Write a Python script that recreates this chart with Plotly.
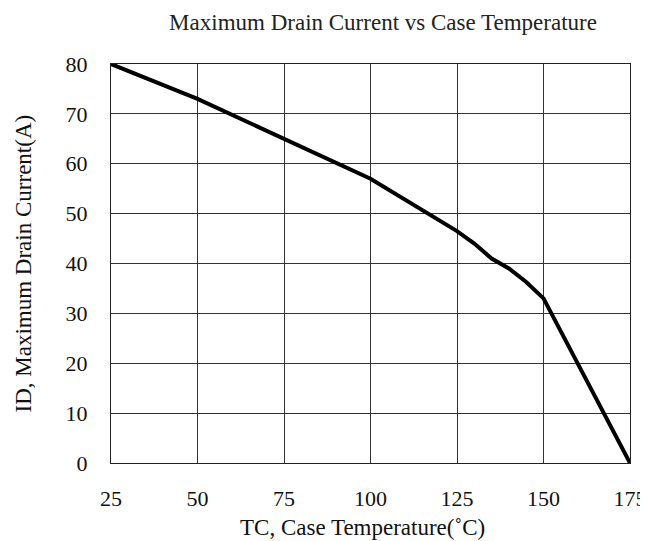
import plotly.graph_objects as go

# Data
case_temp_c = [25, 50, 100, 125, 130, 135, 140, 145, 150, 175]
max_drain_current_a = [80, 73, 57, 46.5, 44, 41, 39, 36.3, 33, 0]

x_ticks = [25, 50, 75, 100, 125, 150, 175]
y_ticks = [0, 10, 20, 30, 40, 50, 60, 70, 80]

title_text = "Maximum Drain Current vs Case Temperature"
x_title = "TC, Case Temperature(˚C)"
y_title = "ID, Maximum Drain Current(A)"

FONT = "Liberation Serif, Times New Roman, serif"
# page has an 8px body margin, so the figure is sized to fill the rest
W, H = 640, 533
L, R, T, B = 103, 18, 56, 78
PW, PH = W - L - R, H - T - B

fig = go.Figure()
fig.add_trace(go.Scatter(
    x=case_temp_c, y=max_drain_current_a, mode="lines",
    line=dict(color="black", width=4), showlegend=False,
))

axis_common = dict(
    showgrid=True, gridcolor="#333333", gridwidth=1,
    showline=True, linecolor="#222222", linewidth=1, mirror=True,
    zeroline=False, ticks="", tickfont=dict(family=FONT, size=22, color="#111111"),
)

fig.update_xaxes(range=[25, 175], tickvals=x_ticks, ticktext=[str(v) for v in x_ticks],
                 ticklabelstandoff=16, **axis_common)
fig.update_yaxes(range=[0, 80], tickvals=y_ticks, ticktext=[str(v) for v in y_ticks],
                 ticklabelstandoff=18, **axis_common)

fig.update_layout(
    width=W, height=H,
    margin=dict(l=L, r=R, t=T, b=B, autoexpand=False),
    paper_bgcolor="white", plot_bgcolor="white",
    font=dict(family=FONT, color="#111111"),
    title=dict(text=title_text, x=375 / W, xanchor="center", xref="container",
               y=1 - 14 / H, yanchor="middle", font=dict(family=FONT, size=23, color="#222222")),
    annotations=[
        dict(text=x_title, xref="paper", yref="paper",
             x=(354 - L) / PW, y=-(519 - (H - B)) / PH,
             xanchor="center", yanchor="middle", showarrow=False,
             font=dict(family=FONT, size=23, color="#111111")),
        dict(text=y_title, xref="paper", yref="paper", textangle=-90,
             x=-(L - 15) / PW, y=0.5,
             xanchor="center", yanchor="middle", showarrow=False,
             font=dict(family=FONT, size=23, color="#111111")),
    ],
)

fig.write_html("out.html")
